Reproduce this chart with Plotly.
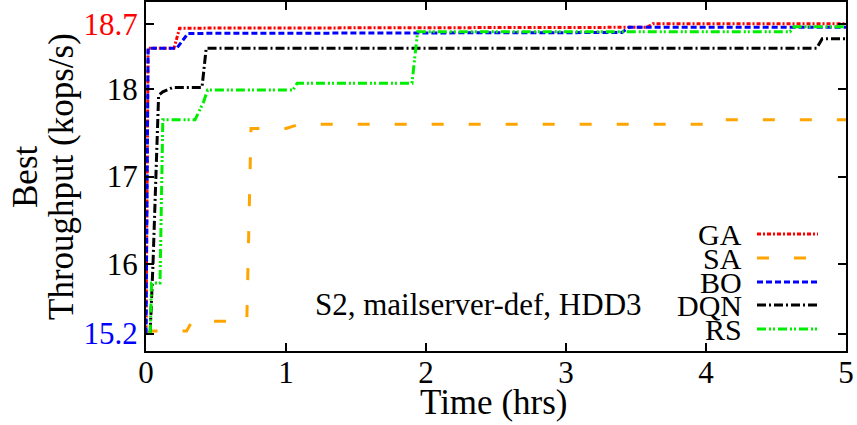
import plotly.graph_objects as go

# ---------------- data ----------------
ga_t = [0.0, 0.015, 0.20, 0.24, 3.58, 3.62, 5.0]
ga_y = [15.2, 18.47, 18.47, 18.70, 18.71, 18.75, 18.75]

sa_t = [0.0, 0.05, 0.29, 0.33, 0.72, 0.75, 1.0, 1.1, 4.10, 4.13, 5.0]
sa_y = [15.2, 15.23, 15.23, 15.34, 15.34, 17.55, 17.55, 17.60, 17.60, 17.65, 17.65]

bo_t = [0.0, 0.015, 0.22, 0.30, 3.40, 3.45, 5.0]
bo_y = [15.2, 18.47, 18.47, 18.64, 18.65, 18.71, 18.71]

dqn_t = [0.03, 0.05, 0.09, 0.12, 0.19, 0.40, 0.43, 4.79, 4.83, 5.0]
dqn_y = [15.22, 16.0, 17.93, 17.97, 18.02, 18.02, 18.47, 18.47, 18.58, 18.58]

rs_t = [0.03, 0.04, 0.10, 0.12, 0.35, 0.41, 0.44, 1.05, 1.08, 1.90, 1.94, 4.60, 4.63, 5.0]
rs_y = [15.2, 15.78, 15.78, 17.65, 17.65, 17.85, 17.99, 17.99, 18.07, 18.07, 18.66, 18.66, 18.715, 18.715]

names = ["GA", "SA", "BO", "DQN", "RS"]
ytick_vals = [15.2, 16, 17, 18, 18.75]
ytick_text = ['<span style="color:#0000ff">15.2</span>', "16", "17", "18",
              '<span style="color:#ff0000">18.7</span>']
xtick_vals = [0, 1, 2, 3, 4, 5]

# ---------------- styles ----------------
colors = ["#ff0000", "#ffa500", "#0000ff", "#000000", "#00ee00"]
dashes = ["4px,2px,2px,2px", "12px,25px", "6px,3px", "9px,3px,2px,3px", "9px,3px,2px,2px,2px,3px"]
FONT = "Liberation Serif"

series = [(ga_t, ga_y), (sa_t, sa_y), (bo_t, bo_y), (dqn_t, dqn_y), (rs_t, rs_y)]

fig = go.Figure()
for (t, y), name, c, d in zip(series, names, colors, dashes):
    fig.add_trace(go.Scatter(x=t, y=y, mode="lines", name=name,
                             line=dict(color=c, width=3, dash=d), showlegend=False))

L, R, T, B = 146, 11, 2, 74
W, H = 857, 425
pw, ph = W - L - R, H - T - B

def px2paper(px, py):
    return (px - L) / pw, (H - B - py) / ph

# manual legend (text right-aligned, sample on right, gnuplot style)
rows_py = [234, 258, 282, 305, 329]
for name, c, d, py in zip(names, colors, dashes, rows_py):
    tx, ty = px2paper(744, py)
    fig.add_annotation(x=tx, y=ty, xref="paper", yref="paper", text=name, showarrow=False,
                       xanchor="right", yanchor="middle",
                       font=dict(family=FONT, size=30, color="black"))
    x0, y0 = px2paper(757, py)
    x1, _ = px2paper(818, py)
    fig.add_shape(type="line", xref="paper", yref="paper", x0=x0, x1=x1, y0=y0, y1=y0,
                  line=dict(color=c, width=3, dash=d))

ax, ay = px2paper(478, 304)
fig.add_annotation(x=ax, y=ay, xref="paper", yref="paper", text="S2, mailserver-def, HDD3",
                   showarrow=False, xanchor="center", yanchor="middle",
                   font=dict(family=FONT, size=31, color="black"))

# axis titles
for txt, px in [("Best", 25), ("Throughput (kops/s)", 61)]:
    tx, ty = px2paper(px, 177)
    fig.add_annotation(x=tx, y=ty, xref="paper", yref="paper", text=txt,
                       showarrow=False, textangle=-90, xanchor="center", yanchor="middle",
                       font=dict(family=FONT, size=35, color="black"))
tx, ty = px2paper(493, 402)
fig.add_annotation(x=tx, y=ty, xref="paper", yref="paper", text="Time (hrs)",
                   showarrow=False, xanchor="center", yanchor="middle",
                   font=dict(family=FONT, size=35, color="black"))

axis_common = dict(showgrid=False, zeroline=False, showline=True, linecolor="black",
                   linewidth=2, mirror="allticks", ticks="inside", ticklen=8, tickwidth=1.5,
                   tickcolor="black", automargin=False,
                   tickfont=dict(family=FONT, size=31, color="black"))

fig.update_xaxes(range=[0, 5], tickvals=xtick_vals, ticklabelstandoff=-7, **axis_common)
fig.update_yaxes(range=[15.0, 19.0], tickvals=ytick_vals, ticktext=ytick_text, **axis_common)

fig.update_layout(template="none", width=W, height=H, margin=dict(l=L, r=R, t=T, b=B),
                  paper_bgcolor="white", plot_bgcolor="white", showlegend=False)

fig.write_html("out.html", config={"displayModeBar": False},
               post_script="document.body.style.margin='0';document.body.style.padding='0';")
